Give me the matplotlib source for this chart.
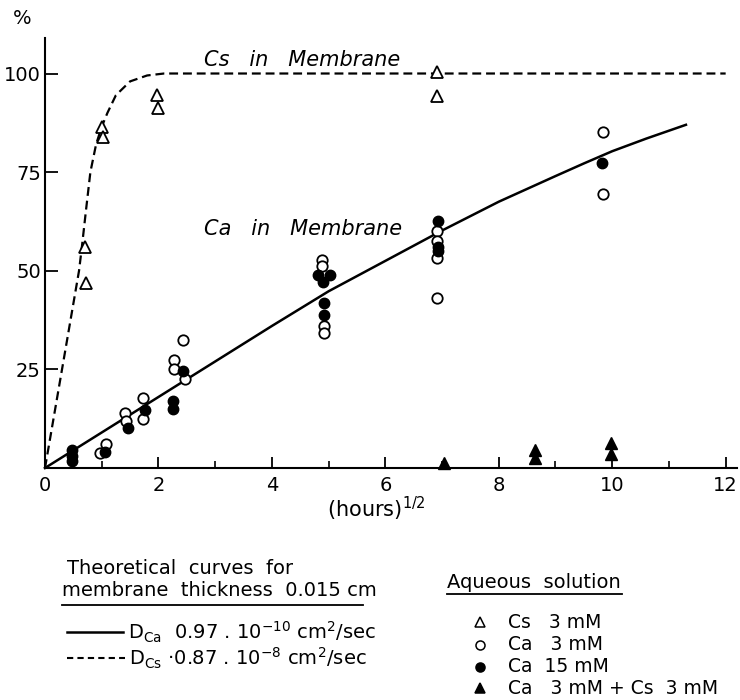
import matplotlib
matplotlib.use("Agg")
import matplotlib.pyplot as plt
from matplotlib.lines import Line2D

plt.rcParams['font.family'] = ['DejaVu Sans']
plt.rcParams['mathtext.fontset'] = 'dejavusans'

# ---- data ----
cs_x = [0.70, 0.72, 1.00, 1.03, 1.98, 2.00, 6.91, 6.91]
cs_y = [56.0, 47.0, 86.5, 84.0, 94.5, 91.3, 100.5, 94.4]

ca3_x = [0.97, 1.07, 1.41, 1.43, 1.73, 1.73, 2.28, 2.28, 2.44, 2.47,
         4.88, 4.88, 4.92, 4.92, 6.91, 6.91, 6.91, 6.91, 9.83, 9.83]
ca3_y = [3.8, 6.0, 13.9, 11.8, 17.8, 12.4, 27.4, 25.0, 32.5, 22.5,
         52.8, 51.2, 36.0, 34.3, 60.0, 57.6, 53.3, 43.0, 85.1, 69.5]

ca15_x = [0.47, 0.47, 0.47, 1.06, 1.46, 1.76, 2.26, 2.26, 2.43,
          4.82, 5.02, 4.90, 4.92, 4.92, 6.93, 6.93, 6.93, 9.82]
ca15_y = [4.5, 3.0, 1.8, 4.0, 10.1, 14.7, 17.1, 14.9, 24.7,
          48.8, 48.8, 47.2, 41.7, 38.8, 62.7, 56.1, 55.0, 77.2]

mix_x = [7.03, 8.64, 8.64, 9.98, 9.98]
mix_y = [1.3, 4.6, 2.5, 6.3, 3.6]

ca_curve_x = [0, 1, 2, 3, 4, 5, 6, 7, 8, 9, 9.5, 10, 10.6, 11.3]
ca_curve_y = [0, 9.0, 18.0, 27.0, 36.0, 44.8, 52.5, 60.2, 67.5, 74.0, 77.2, 80.3, 83.5, 87.0]

cs_curve_x = [0, 0.3, 0.6, 0.65, 0.72, 0.8, 0.9, 1.0, 1.1, 1.25, 1.5, 1.8, 2.1, 12.0]
cs_curve_y = [0, 25, 50, 56, 65, 75, 82, 86.5, 90, 94.5, 98, 99.5, 100, 100]

x_major = [0, 2, 4, 6, 8, 10, 12]
x_minor = [1, 3, 5, 7, 9, 11]
y_ticks = [25, 50, 75, 100]

W, H = 740, 700
fig = plt.figure(figsize=(W / 100, H / 100), dpi=100)
ax = fig.add_axes([45 / W, 1 - 468 / H, 692 / W, (468 - 38) / H])
ax.set_xlim(0, 12.2)
ax.set_ylim(0, 109)

for s in ['top', 'right']:
    ax.spines[s].set_visible(False)
for s in ['left', 'bottom']:
    ax.spines[s].set_linewidth(1.5)

ax.plot(ca_curve_x, ca_curve_y, color='black', lw=1.8, clip_on=False)
ax.plot(cs_curve_x, cs_curve_y, color='black', lw=1.6, dashes=(4, 2.2), clip_on=False)

mk = dict(linestyle='none', color='black', clip_on=False, zorder=5)
ax.plot(cs_x, cs_y, marker='^', ms=8, mfc='white', mew=1.3, **mk)
ax.plot(ca3_x, ca3_y, marker='o', ms=7.5, mfc='white', mew=1.3, **mk)
ax.plot(ca15_x, ca15_y, marker='o', ms=7.5, mfc='black', mew=1.0, **mk)
ax.plot(mix_x, mix_y, marker='^', ms=8, mfc='black', mew=1.0, **mk)

ax.set_xticks(x_major)
ax.set_xticks(x_minor, minor=True)
ax.set_yticks(y_ticks)
ax.tick_params(axis='x', which='major', direction='in', length=8, width=1.3,
               pad=6, labelsize=14)
ax.tick_params(axis='x', which='minor', direction='in', length=5, width=1.2)
ax.tick_params(axis='y', which='major', direction='in', length=9, width=1.3,
               pad=3, labelsize=14)

ax.text(2.8, 103.5, 'Cs   in   Membrane', style='italic', fontsize=15,
        ha='left', va='center')
ax.text(2.8, 60.5, 'Ca   in   Membrane', style='italic', fontsize=15,
        ha='left', va='center')

def fx(px):
    return px / W

def fy(py):
    return 1 - py / H

fig.text(fx(13), fy(18), '%', fontsize=14, ha='left', va='center')
fig.text(fx(327), fy(509), r'(hours)$^{\mathregular{1/2}}$', fontsize=15,
         ha='left', va='center')

LF = 14
# left legend block
fig.text(fx(67), fy(569), 'Theoretical  curves  for', fontsize=LF, ha='left', va='center')
fig.text(fx(62), fy(591), 'membrane  thickness  0.015 cm', fontsize=LF, ha='left', va='center')
fig.add_artist(Line2D([fx(62), fx(363)], [fy(605), fy(605)], color='black', lw=1.3))
fig.add_artist(Line2D([fx(67), fx(123)], [fy(632), fy(632)], color='black', lw=1.8))
fig.text(fx(128), fy(632), r'D$_{\mathregular{Ca}}$  0.97 . 10$^{\mathregular{-10}}$ cm$^{\mathregular{2}}$/sec',
         fontsize=LF, ha='left', va='center')
fig.add_artist(Line2D([fx(67), fx(125)], [fy(658), fy(658)], color='black', lw=1.5,
                      dashes=(3, 2)))
fig.text(fx(129), fy(658), r'D$_{\mathregular{Cs}}$ ·0.87 . 10$^{\mathregular{-8}}$ cm$^{\mathregular{2}}$/sec',
         fontsize=LF, ha='left', va='center')

# right legend block
fig.text(fx(447), fy(582), 'Aqueous  solution', fontsize=LF, ha='left', va='center')
fig.add_artist(Line2D([fx(447), fx(622)], [fy(594), fy(594)], color='black', lw=1.3))
entries = [('^', 'white', 'Cs   3 mM', 622),
           ('o', 'white', 'Ca   3 mM', 645),
           ('o', 'black', 'Ca  15 mM', 667),
           ('^', 'black', 'Ca   3 mM + Cs  3 mM', 688)]
for m, fc, label, py in entries:
    fig.add_artist(Line2D([fx(480)], [fy(py)], marker=m, ms=6.5, mfc=fc,
                          mec='black', mew=1.1, linestyle='none'))
    fig.text(fx(508), fy(py), label, fontsize=13.5, ha='left', va='center')

fig.savefig('out.png', dpi=100)
